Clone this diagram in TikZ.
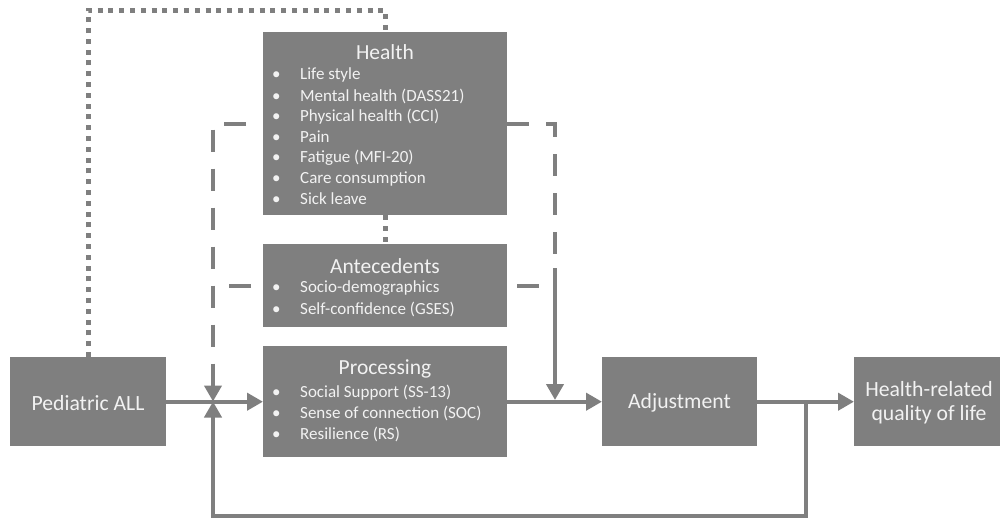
\documentclass[tikz,border=0pt]{standalone}
\usepackage{fontspec}
\setmainfont{Carlito}
\usetikzlibrary{arrows.meta}
\definecolor{boxgray}{RGB}{127,127,127}
\definecolor{txtw}{RGB}{242,242,242}
\begin{document}
\begin{tikzpicture}[x=1pt,y=-1pt,
  box/.style={draw=none, fill=boxgray, inner sep=0pt, anchor=north west},
  conn/.style={draw=boxgray, line width=4pt},
  tip/.style={-{Triangle[length=16pt,width=17pt]}},
  arr/.style={conn, tip},
  dashline/.style={conn, dash pattern=on 22pt off 17pt},
  dotline/.style={draw=boxgray, line width=5pt, dash pattern=on 5pt off 5.8pt},
  title/.style={text=txtw, font=\fontsize{21.5}{25}\selectfont, inner sep=0pt},
  big/.style={text=txtw, font=\fontsize{21.7}{24}\selectfont, inner sep=0pt, align=center},
  item/.style={text=txtw, font=\fontsize{17}{20}\selectfont, inner sep=0pt, anchor=west},
]
\useasboundingbox (0,0) rectangle (1000,523);
% boxes
\node[box, minimum width=244pt, minimum height=183pt] (health) at (263,32) {};
\node[box, minimum width=244pt, minimum height=83pt] (ante) at (263,244) {};
\node[box, minimum width=244pt, minimum height=111pt] (proc) at (263,346) {};
\node[box, minimum width=156pt, minimum height=89pt] (ped) at (10,357) {};
\node[box, minimum width=155pt, minimum height=89pt] (adj) at (602,357) {};
\node[box, minimum width=150pt, minimum height=89pt] (hrq) at (854,357) {};
% texts
\node[title] (htitle) at (385,52) {Health};
\node[item] (h1) at (272,75) {\makebox[28pt][l]{•}Life style};
\node[item] (h2) at (272,96) {\makebox[28pt][l]{•}Mental health (DASS21)};
\node[item] (h3) at (272,116.5) {\makebox[28pt][l]{•}Physical health (CCI)};
\node[item] (h4) at (272,137) {\makebox[28pt][l]{•}Pain};
\node[item] (h5) at (272,158) {\makebox[28pt][l]{•}Fatigue (MFI-20)};
\node[item] (h6) at (272,178.5) {\makebox[28pt][l]{•}Care consumption};
\node[item] (h7) at (272,199) {\makebox[28pt][l]{•}Sick leave};
\node[title] (atitle) at (385,266) {Antecedents};
\node[item] (a1) at (272,288.5) {\makebox[28pt][l]{•}Socio-demographics};
\node[item] (a2) at (272,309.5) {\makebox[28pt][l]{•}Self-confidence (GSES)};
\node[title] (ptitle) at (385,369) {Processing};
\node[item] (p1) at (272,392.5) {\makebox[28pt][l]{•}Social Support (SS-13)};
\node[item] (p2) at (272,413.5) {\makebox[28pt][l]{•}Sense of connection (SOC)};
\node[item] (p3) at (272,434) {\makebox[28pt][l]{•}Resilience (RS)};
\node[big] (pedt) at (88,403) {Pediatric ALL};
\node[big] (adjt) at (679.5,403) {Adjustment};
\node[big] (hrqt) at (929,403) {Health-related\\quality of life};
% helper coordinates
\coordinate (jn) at (213,401.5);
\coordinate (rs) at (555,268);
\coordinate (rj) at (555,400);
\coordinate (fb) at (806,401.5);
\coordinate (bot) at (0,516);
\coordinate (dtop) at (0,10);
% dotted
\draw[dotline] (ped.north) |- (dtop -| health.north) -- (health.north);
\draw[dotline] (health.south) -- (ante.north);
% dashed
\draw[dashline, dash phase=22pt, tip] (health.west) -| (jn);
\draw[dashline, dash phase=27pt] (ante.west) -- (ante.west -| jn);
\draw[dashline] (health.east) -| (rs);
\draw[dashline, dash phase=29pt] (ante.east) -- (ante.east -| rs);
\draw[arr] (rs) -- (rj);
% main flow
\draw[arr] (ped.east) -- (proc.west);
\draw[arr] (proc.east) -- (adj.west);
\draw[arr] (adj.east) -- (hrq.west);
\draw[arr] (fb) -- (fb |- bot) -| (jn);
\end{tikzpicture}
\end{document}
